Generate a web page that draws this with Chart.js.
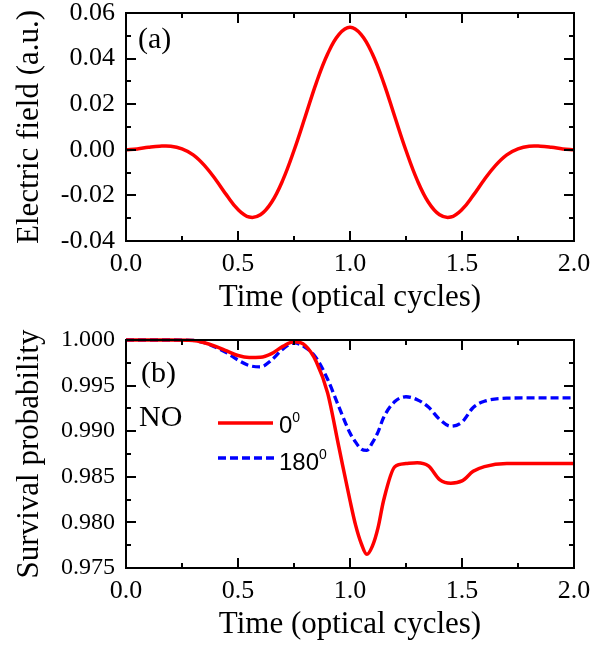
<!DOCTYPE html>
<html>
<head>
<meta charset="utf-8">
<script src="https://cdn.jsdelivr.net/npm/chart.js@4.4.1/dist/chart.umd.min.js"></script>
<style>
  html, body { margin: 0; padding: 0; background: #fff; }
  #wrap { position: relative; width: 612px; height: 647px; overflow: hidden; }
  canvas { position: absolute; left: 0; }
  #chart-a { top: 0; }
  #chart-b { top: 320px; }
  .note { position: absolute; font-family: "Liberation Serif", "Times New Roman", serif; font-size: 30px; line-height: 1; color: #000; white-space: nowrap; }
  .leg { position: absolute; left: 279px; font-family: "Liberation Sans", Arial, sans-serif; font-size: 24px; line-height: 1; color: #000; white-space: nowrap; }
  .leg span { font-size: 14px; position: relative; top: -11px; }
</style>
</head>
<body>
<div id="wrap">
  <canvas id="chart-a" width="612" height="320"></canvas>
  <canvas id="chart-b" width="612" height="327"></canvas>
  <div class="note" style="left:138px; top:23px;">(a)</div>
  <div class="note" style="left:141px; top:357px;">(b)</div>
  <div class="note" style="left:139px; top:401px;">NO</div>
  <div class="leg" id="leg-0" style="top:413px;"></div>
  <div class="leg" id="leg-1" style="top:450px;"></div>
</div>
<script>
// panel (a): electric field
const timeA = [0.00, 0.05, 0.10, 0.15, 0.20, 0.25, 0.30, 0.35, 0.40, 0.45,
  0.50, 0.55, 0.60, 0.65, 0.70, 0.75, 0.80, 0.85, 0.90, 0.95,
  1.00, 1.05, 1.10, 1.15, 1.20, 1.25, 1.30, 1.35, 1.40, 1.45,
  1.50, 1.55, 1.60, 1.65, 1.70, 1.75, 1.80, 1.85, 1.90, 1.95, 2.00];
const fieldA = [0.0000, 0.0004, 0.0011, 0.0016, 0.0016, 0.0004, -0.0022, -0.0068, -0.0130, -0.0200,
  -0.0262, -0.0295, -0.0285, -0.0230, -0.0133, -0.0003, 0.0145, 0.0295, 0.0420, 0.0505,
  0.0537, 0.0505, 0.0420, 0.0295, 0.0145, -0.0003, -0.0133, -0.0230, -0.0285, -0.0295,
  -0.0262, -0.0200, -0.0130, -0.0068, -0.0022, 0.0004, 0.0016, 0.0016, 0.0011, 0.0004, 0.0000];

// panel (b): survival probability
const timeB = [0, 0.1, 0.2, 0.3, 0.35, 0.4, 0.45, 0.5, 0.55, 0.6, 0.65, 0.7, 0.75, 0.8, 0.85, 0.9,
  0.95, 1.0, 1.025, 1.05, 1.075, 1.1, 1.125, 1.15, 1.2, 1.25, 1.3, 1.35, 1.4, 1.45, 1.5,
  1.55, 1.6, 1.7, 1.8, 1.9, 2.0];
const prob0 = [1.0000, 1.0000, 1.0000, 0.99995, 0.9997, 0.9993, 0.9988, 0.9983, 0.99808, 0.9981,
  0.9985, 0.9993, 0.9998, 0.9994, 0.9976, 0.9942, 0.9883, 0.9824, 0.9797, 0.9777, 0.9765,
  0.9774, 0.9794, 0.9824, 0.9861, 0.98645, 0.98655, 0.9862, 0.9847, 0.9843, 0.98455,
  0.9856, 0.98612, 0.98645, 0.98645, 0.98645, 0.98645];
const prob180 = [1.0000, 1.0000, 1.0000, 0.99995, 0.9997, 0.9992, 0.9986, 0.9978, 0.9972, 0.99705,
  0.9978, 0.9990, 0.99968, 0.9992, 0.9980, 0.9957, 0.9927, 0.9898, 0.9888, 0.98805, 0.9879,
  0.98874, 0.9899, 0.9915, 0.99325, 0.99378, 0.99345, 0.99265, 0.9913, 0.99055, 0.9910,
  0.9926, 0.99328, 0.99362, 0.99365, 0.99365, 0.99365];
const angleLabels = ['0', '180'];

// tick values
const timeTicks = [0.0, 0.5, 1.0, 1.5, 2.0];
const fieldTicks = [-0.04, -0.02, 0.00, 0.02, 0.04, 0.06];
const probTicks = [0.975, 0.980, 0.985, 0.990, 0.995, 1.000];

const serif = '"Liberation Serif", "Times New Roman", serif';

function toPoints(xs, ys) {
    return xs.map((x, i) => ({ x: x, y: ys[i] }));
}

// minor ticks between majors
function withMinor(vals) {
    const out = [];
    for (let i = 0; i < vals.length - 1; i++) out.push((vals[i] + vals[i + 1]) / 2);
    return out;
}

// box frame + inward ticks on all four sides
const frameTicks = {
    id: 'frameTicks',
    afterDraw(chart) {
        const { ctx, chartArea: a, scales } = chart;
        const xs = scales.x, ys = scales.y;
        const xMaj = xs.options.majorVals, yMaj = ys.options.majorVals;
        ctx.save();
        ctx.strokeStyle = '#000';
        ctx.lineWidth = 2;
        ctx.beginPath();
        const tickX = (v, len) => {
            const px = Math.round(xs.getPixelForValue(v));
            ctx.moveTo(px, a.bottom); ctx.lineTo(px, a.bottom - len);
            ctx.moveTo(px, a.top); ctx.lineTo(px, a.top + len);
        };
        const tickY = (v, len) => {
            const py = Math.round(ys.getPixelForValue(v));
            ctx.moveTo(a.left, py); ctx.lineTo(a.left + len, py);
            ctx.moveTo(a.right, py); ctx.lineTo(a.right - len, py);
        };
        xMaj.forEach(v => tickX(v, 10));
        withMinor(xMaj).forEach(v => tickX(v, 5));
        yMaj.forEach(v => tickY(v, 10));
        withMinor(yMaj).forEach(v => tickY(v, 5));
        ctx.stroke();
        ctx.strokeRect(a.left, a.top, a.right - a.left, a.bottom - a.top);
        ctx.restore();
    }
};

// legend sample lines for panel (b)
const legendLines = {
    id: 'legendLines',
    afterDraw(chart) {
        if (chart.canvas.id !== 'chart-b') return;
        const ctx = chart.ctx;
        chart.data.datasets.forEach((ds, i) => {
            const y = i === 0 ? 103 : 138;
            ctx.save();
            ctx.strokeStyle = ds.borderColor;
            ctx.lineWidth = ds.borderWidth;
            ctx.setLineDash(ds.borderDash || []);
            ctx.beginPath();
            ctx.moveTo(218, y);
            ctx.lineTo(i === 0 ? 273 : 278, y);
            ctx.stroke();
            ctx.restore();
        });
    }
};

function makePanel(id, datasets, yMin, yMax, yTicks, yDigits, yTitle, yFontSize, padTop) {
    return new Chart(document.getElementById(id), {
        type: 'line',
        data: { datasets: datasets },
        options: {
            responsive: false,
            animation: false,
            devicePixelRatio: 1,
            layout: { padding: { top: padTop, right: 38, left: 0, bottom: 0 } },
            plugins: { legend: { display: false }, tooltip: { enabled: false } },
            elements: { point: { radius: 0 } },
            scales: {
                x: {
                    type: 'linear',
                    min: 0,
                    max: 2,
                    majorVals: timeTicks,
                    afterBuildTicks: s => { s.ticks = timeTicks.map(v => ({ value: v })); },
                    afterFit: s => { s.height = 79; s.paddingLeft = 0; s.paddingRight = 0; },
                    grid: { display: false, drawTicks: false, tickLength: 0 },
                    border: { display: false },
                    ticks: {
                        color: '#000',
                        padding: 8,
                        maxRotation: 0,
                        font: { family: serif, size: 26 },
                        callback: v => Number(v).toFixed(1)
                    },
                    title: {
                        display: true,
                        text: 'Time (optical cycles)',
                        color: '#000',
                        font: { family: serif, size: 31 },
                        padding: { top: 0, bottom: 4 }
                    }
                },
                y: {
                    type: 'linear',
                    min: yMin,
                    max: yMax,
                    majorVals: yTicks,
                    afterBuildTicks: s => { s.ticks = yTicks.map(v => ({ value: v })); },
                    afterFit: s => { s.width = 126; s.paddingTop = 0; s.paddingBottom = 0; },
                    grid: { display: false, drawTicks: false, tickLength: 0 },
                    border: { display: false },
                    ticks: {
                        color: '#000',
                        padding: 11,
                        font: { family: serif, size: yFontSize },
                        callback: v => Number(v).toFixed(yDigits)
                    },
                    title: {
                        display: true,
                        text: yTitle,
                        color: '#000',
                        font: { family: serif, size: 31 },
                        padding: { top: 11, bottom: 0 }
                    }
                }
            }
        },
        plugins: [frameTicks, legendLines]
    });
}

makePanel('chart-a', [{
    data: toPoints(timeA, fieldA),
    borderColor: '#ff0000',
    borderWidth: 3.5,
    tension: 0.4,
    fill: false
}], -0.04, 0.06, fieldTicks, 2, 'Electric field (a.u.)', 26, 13);

makePanel('chart-b', [{
    data: toPoints(timeB, prob0),
    borderColor: '#ff0000',
    borderWidth: 3.5,
    cubicInterpolationMode: 'monotone',
    clip: false,
    fill: false
}, {
    data: toPoints(timeB, prob180),
    borderColor: '#0000ff',
    borderWidth: 3.3,
    borderDash: [8, 4],
    cubicInterpolationMode: 'monotone',
    clip: false,
    fill: false
}], 0.975, 1.0, probTicks, 3, 'Survival probability', 24, 20);

// legend text with superscript degree
angleLabels.forEach((t, i) => {
    document.getElementById('leg-' + i).innerHTML = t + '<span>0</span>';
});
</script>
</body>
</html>
